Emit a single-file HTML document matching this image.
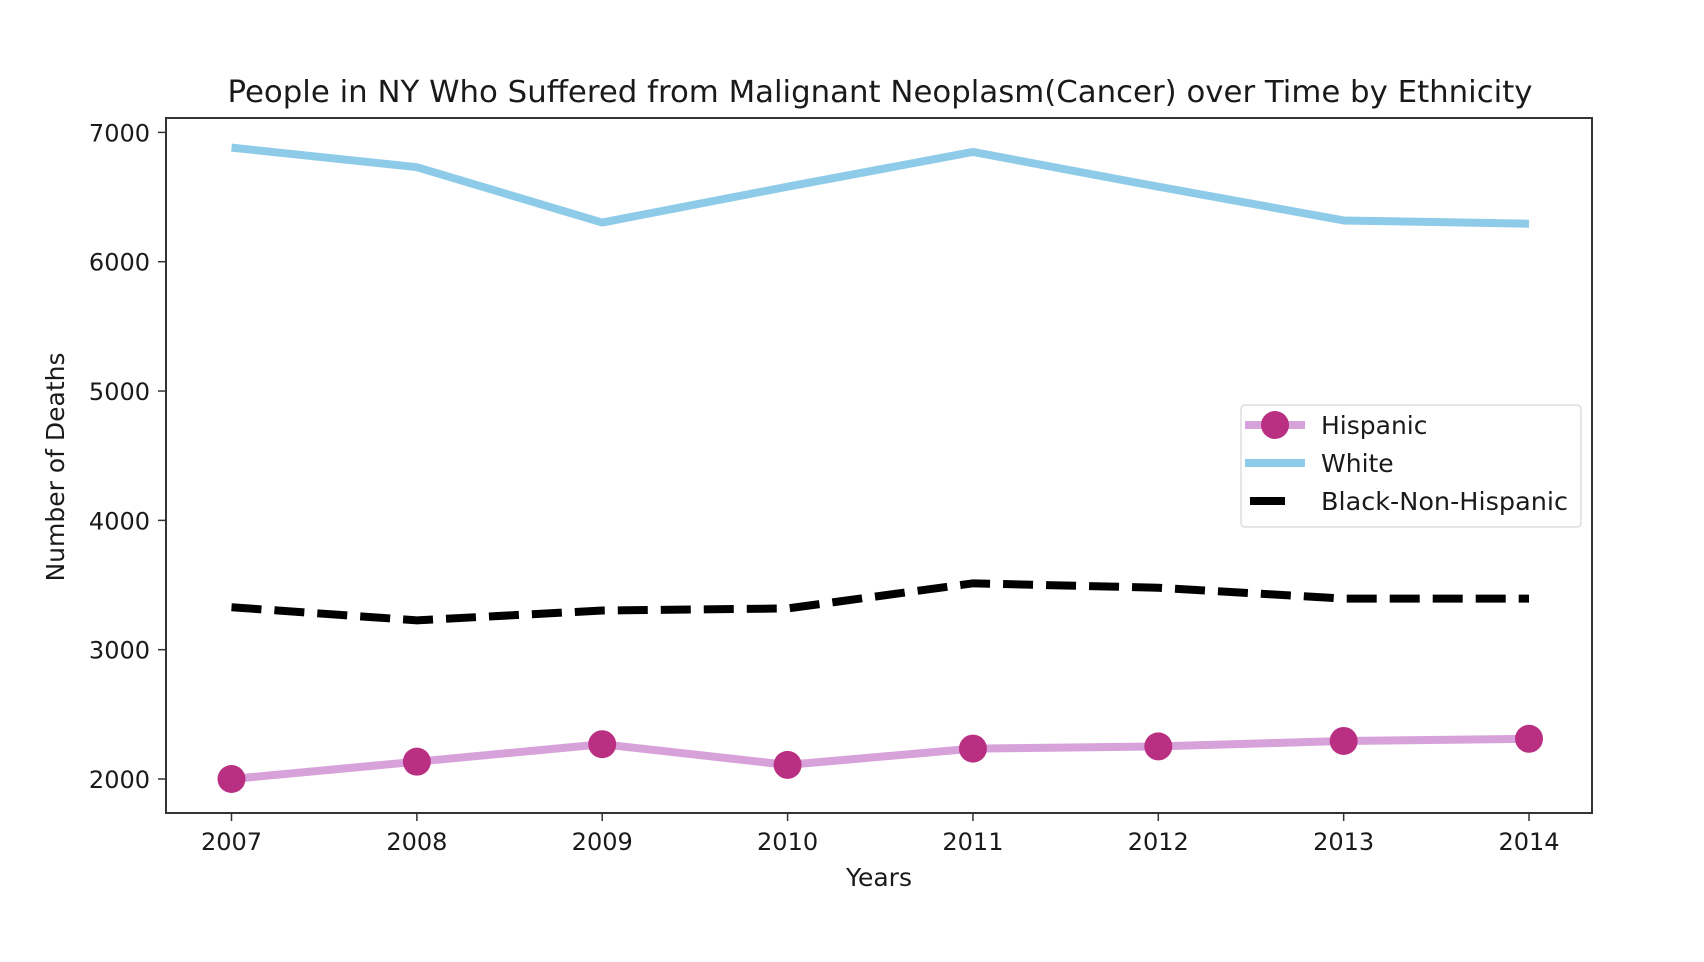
<!DOCTYPE html>
<html><head><meta charset="utf-8">
<style>
html,body{margin:0;padding:0;background:#fff;}
svg{display:block;font-family:"DejaVu Sans","Liberation Sans",sans-serif;}
</style></head>
<body>
<svg id="chart" width="1704" height="962" viewBox="0 0 1704 962">
<rect width="1704" height="962" fill="#fff"/>
<text x="880" y="102" font-size="30" text-anchor="middle" fill="#1a1a1a" textLength="1305" lengthAdjust="spacingAndGlyphs">People in NY Who Suffered from Malignant Neoplasm(Cancer) over Time by Ethnicity</text>
<g id="grid"></g>
<g id="series"></g>
<rect x="166" y="118" width="1426" height="695" fill="none" stroke="#333" stroke-width="2"/>
<g id="axes"></g>
<text x="879" y="886" font-size="25" text-anchor="middle" fill="#1a1a1a">Years</text>
<text transform="translate(64,467) rotate(-90)" font-size="25" text-anchor="middle" fill="#1a1a1a">Number of Deaths</text>
<g>
<rect x="1241" y="405" width="340" height="122" rx="4" fill="#fff" stroke="#ddd" stroke-width="1.5"/>
<g>
<line x1="1245" y1="425" x2="1305" y2="425" stroke="#d7a1d9" stroke-width="8"/>
<circle cx="1275" cy="425" r="14" fill="#b93082"/>
<text x="1321" y="434" font-size="25" fill="#1a1a1a">Hispanic</text></g>
<g>
<line x1="1245" y1="463" x2="1305" y2="463" stroke="#8ecbe8" stroke-width="8"/>
<text x="1321" y="472" font-size="25" fill="#1a1a1a">White</text></g>
<g>
<line x1="1250" y1="501" x2="1285" y2="501" stroke="#000" stroke-width="8"/>
<text x="1321" y="510" font-size="25" fill="#1a1a1a" textLength="247" lengthAdjust="spacingAndGlyphs">Black-Non-Hispanic</text></g>
</g>
</svg>
<script>
const years = [2007,2008,2009,2010,2011,2012,2013,2014];
const white = [6882,6731,6303,6580,6849,6580,6319,6294];
const black = [3328,3227,3303,3319,3513,3479,3395,3395];
const hispanic = [2000,2134,2269,2109,2235,2252,2294,2311];
const yTicks = [2000,3000,4000,5000,6000,7000];

const NS = "http://www.w3.org/2000/svg";
function xScale(yr){ return 231.5 + (yr-2007)*185.36; }
function yScale(v){ return 779 - (v-2000)*0.12932; }
function mk(tag, attrs, parent){ const e=document.createElementNS(NS,tag); for(const k in attrs) e.setAttribute(k,attrs[k]); parent.appendChild(e); return e; }

const axes=document.getElementById('axes');
years.forEach(yr=>{
  const x=xScale(yr);
  const t=mk('line',{x1:x,y1:813,x2:x,y2:821,stroke:'#333','stroke-width':1.5},axes);
  
  
  const l=mk('text',{x:x,y:850,'font-size':24,'text-anchor':'middle',fill:'#1a1a1a'},axes);
  l.textContent=yr;
  
  
});
yTicks.forEach(v=>{
  const y=yScale(v);
  const t=mk('line',{x1:158,y1:y,x2:166,y2:y,stroke:'#333','stroke-width':1.5},axes);
  
  
  const l=mk('text',{x:150,y:y+9,'font-size':24,'text-anchor':'end',fill:'#1a1a1a'},axes);
  l.textContent=v;
  
  
});

const sg=document.getElementById('series');
function pts(arr){ return arr.map((v,i)=>xScale(years[i])+','+yScale(v)).join(' '); }
const w=mk('polyline',{points:pts(white),fill:'none',stroke:'#8ecbe8','stroke-width':8,'stroke-linejoin':'round'},sg);


const b=mk('polyline',{points:pts(black),fill:'none',stroke:'#000','stroke-width':8,'stroke-dasharray':'30 13'},sg);


const h=mk('polyline',{points:pts(hispanic),fill:'none',stroke:'#d7a1d9','stroke-width':8,'stroke-linejoin':'round'},sg);


hispanic.forEach((v,i)=>{
  const c=mk('circle',{cx:xScale(years[i]),cy:yScale(v),r:14,fill:'#b93082'},sg);
  
  
});
</script>
</body></html>
